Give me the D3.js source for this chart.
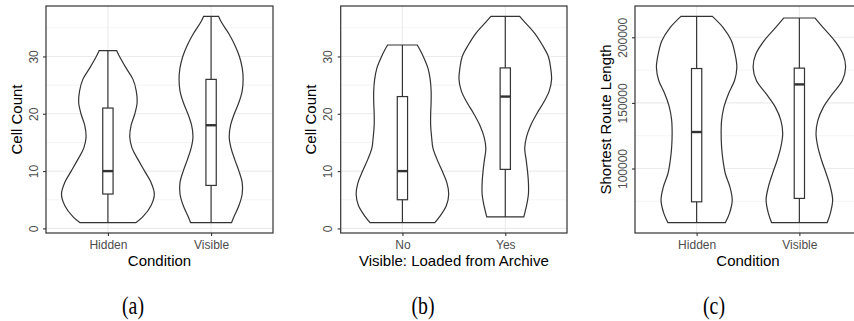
<!DOCTYPE html>
<html>
<head>
<meta charset="utf-8">
<script src="https://cdn.jsdelivr.net/npm/d3@7"></script>
<style>
    body { margin: 0; background: #fff; }
    svg { display: block; }
    text { font-family: "Liberation Sans", Arial, sans-serif; }
</style>
</head>
<body>
<div id="chart"></div>
<script>
// (a) Cell count by condition
const condCats = ["Hidden", "Visible"];
const aHiddenLevels = [1, 2, 4, 6, 8, 10, 12, 14, 16, 18, 20, 22, 24, 26, 28, 30, 31];
const aHiddenWidth  = [0.60, 0.75, 0.93, 1.00, 0.93, 0.79, 0.65, 0.52, 0.47, 0.50, 0.58, 0.63, 0.61, 0.54, 0.39, 0.25, 0.19];
const aVisibleLevels = [1, 2, 4, 6, 8, 10, 12, 14, 16, 18, 20, 22, 24, 26, 28, 30, 32, 34, 36, 37];
const aVisibleWidth  = [0.44, 0.49, 0.60, 0.67, 0.67, 0.60, 0.51, 0.43, 0.39, 0.42, 0.50, 0.60, 0.67, 0.69, 0.67, 0.61, 0.51, 0.38, 0.22, 0.16];
// min, q1, median, q3, max
const aBoxes = [[1, 6, 10, 21, 31], [1, 7.5, 18, 26, 37]];

// (b) Cell count by archive loading
const archiveCats = ["No", "Yes"];
const bNoLevels = [1, 2, 4, 6, 8, 10, 12, 14, 16, 18, 20, 22, 24, 26, 28, 30, 31, 32];
const bNoWidth  = [0.70, 0.80, 0.95, 1.00, 0.96, 0.86, 0.75, 0.66, 0.63, 0.61, 0.61, 0.62, 0.62, 0.60, 0.55, 0.45, 0.39, 0.32];
const bYesLevels = [2, 4, 6, 8, 10, 12, 14, 16, 18, 20, 22, 24, 26, 28, 30, 32, 34, 36, 37];
const bYesWidth  = [0.40, 0.46, 0.50, 0.50, 0.48, 0.45, 0.42, 0.46, 0.55, 0.68, 0.83, 0.95, 1.00, 0.98, 0.93, 0.80, 0.64, 0.42, 0.31];
const bBoxes = [[1, 5, 10, 23, 32], [2, 10.3, 23, 28, 37]];

// (c) Shortest route length by condition
const cHiddenLevels = [58700, 65800, 75900, 86000, 96200, 106300, 116400, 126600, 136700, 146800, 157000, 167100, 177200, 187400, 197500, 207600, 216000];
const cHiddenWidth  = [0.62, 0.71, 0.77, 0.72, 0.62, 0.57, 0.54, 0.53, 0.54, 0.59, 0.69, 0.82, 0.87, 0.83, 0.75, 0.57, 0.34];
const cVisibleLevels = [58700, 65800, 75900, 86000, 96200, 106300, 116400, 126600, 136700, 146800, 157000, 167100, 177200, 187400, 197500, 207600, 214700];
const cVisibleWidth  = [0.60, 0.67, 0.72, 0.67, 0.58, 0.48, 0.40, 0.36, 0.40, 0.52, 0.72, 0.93, 1.00, 0.94, 0.76, 0.51, 0.34];
const cBoxes = [[58700, 74600, 127800, 176200, 216000], [58700, 77200, 164100, 176500, 214700]];

const countTicks = [0, 10, 20, 30];
const countMinor = [5, 15, 25, 35];
const routeTicks = [100000, 150000, 200000];
const routeMinor = [75000, 125000, 175000];

const panels = [
    {cats: condCats, levels: [aHiddenLevels, aVisibleLevels], widths: [aHiddenWidth, aVisibleWidth], boxes: aBoxes,
     ticks: countTicks, minor: countMinor, xTitle: "Condition", yTitle: "Cell Count", caption: "(a)",
     left: 46, right: 273, capX: 133},
    {cats: archiveCats, levels: [bNoLevels, bYesLevels], widths: [bNoWidth, bYesWidth], boxes: bBoxes,
     ticks: countTicks, minor: countMinor, xTitle: "Visible: Loaded from Archive", yTitle: "Cell Count", caption: "(b)",
     left: 340.7, right: 567, capX: 423},
    {cats: condCats, levels: [cHiddenLevels, cVisibleLevels], widths: [cHiddenWidth, cVisibleWidth], boxes: cBoxes,
     ticks: routeTicks, minor: routeMinor, xTitle: "Condition", yTitle: "Shortest Route Length", caption: "(c)",
     left: 635, right: 861, capX: 714}
];

const width = 854, height = 321;
const plotTop = 6, plotBottom = 233;

const svg = d3.select("#chart").append("svg")
    .attr("width", width)
    .attr("height", height);

svg.append("rect").attr("width", width).attr("height", height).attr("fill", "#fff");

panels.forEach(drawPanel);

function drawPanel(p) {
    const g = svg.append("g");

    const allVals = p.boxes.flat();
    const lo = d3.min(allVals), hi = d3.max(allVals);
    const pad = (hi - lo) * 0.05;

    const x = d3.scalePoint().domain(p.cats).range([p.left, p.right]).padding(0.6);
    const y = d3.scaleLinear().domain([lo - pad, hi + pad]).range([plotBottom, plotTop]);
    const step = x.step();

    // grid
    g.selectAll(".minor")
        .data(p.minor.filter(v => y(v) > plotTop && y(v) < plotBottom))
        .enter().append("line")
        .attr("x1", p.left).attr("x2", p.right)
        .attr("y1", d => y(d)).attr("y2", d => y(d))
        .attr("stroke", "#ebebeb").attr("stroke-width", 0.55);
    g.selectAll(".majorY")
        .data(p.ticks)
        .enter().append("line")
        .attr("x1", p.left).attr("x2", p.right)
        .attr("y1", d => y(d)).attr("y2", d => y(d))
        .attr("stroke", "#ebebeb").attr("stroke-width", 1.1);
    g.selectAll(".majorX")
        .data(p.cats)
        .enter().append("line")
        .attr("x1", d => x(d)).attr("x2", d => x(d))
        .attr("y1", plotTop).attr("y2", plotBottom)
        .attr("stroke", "#ebebeb").attr("stroke-width", 1.1);

    // violins + boxes
    p.cats.forEach((cat, i) => {
        const cx = x(cat);
        const pts = p.levels[i].map((v, j) => [v, p.widths[i][j]]);
        const area = d3.area()
            .y(d => y(d[0]))
            .x0(d => cx - d[1] * 0.45 * step)
            .x1(d => cx + d[1] * 0.45 * step)
            .curve(d3.curveCatmullRom);
        g.append("path")
            .attr("d", area(pts))
            .attr("fill", "#fff")
            .attr("stroke", "#333")
            .attr("stroke-width", 1.2);

        const b = p.boxes[i];
        const bw = 0.1 * step;
        g.append("line")
            .attr("x1", cx).attr("x2", cx)
            .attr("y1", y(b[0])).attr("y2", y(b[4]))
            .attr("stroke", "#333").attr("stroke-width", 1.2);
        g.append("rect")
            .attr("x", cx - bw / 2).attr("width", bw)
            .attr("y", y(b[3])).attr("height", y(b[1]) - y(b[3]))
            .attr("fill", "#fff")
            .attr("stroke", "#333").attr("stroke-width", 1.2);
        g.append("line")
            .attr("x1", cx - bw / 2).attr("x2", cx + bw / 2)
            .attr("y1", y(b[2])).attr("y2", y(b[2]))
            .attr("stroke", "#333").attr("stroke-width", 2.4);
    });

    // panel border
    g.append("rect")
        .attr("x", p.left).attr("y", plotTop)
        .attr("width", p.right - p.left).attr("height", plotBottom - plotTop)
        .attr("fill", "none").attr("stroke", "#333").attr("stroke-width", 1.2);

    // axes
    const yAxis = g.append("g")
        .attr("transform", `translate(${p.left},0)`)
        .call(d3.axisLeft(y).tickValues(p.ticks).tickSize(3).tickFormat(d3.format("d")));
    yAxis.select(".domain").remove();
    yAxis.selectAll(".tick line").attr("stroke", "#333").attr("stroke-width", 1.1);
    yAxis.selectAll(".tick text")
        .attr("x", null).attr("dy", null)
        .attr("transform", "translate(-8.5,0) rotate(-90)")
        .attr("text-anchor", "middle")
        .attr("fill", "#4d4d4d")
        .style("font-size", "12px");

    const xAxis = g.append("g")
        .attr("transform", `translate(0,${plotBottom})`)
        .call(d3.axisBottom(x).tickSize(3).tickPadding(4));
    xAxis.select(".domain").remove();
    xAxis.selectAll(".tick line").attr("stroke", "#333").attr("stroke-width", 1.1);
    xAxis.selectAll(".tick text")
        .attr("fill", "#4d4d4d")
        .style("font-size", "12px");

    // titles
    g.append("text")
        .attr("x", (p.left + p.right) / 2)
        .attr("y", 266)
        .attr("text-anchor", "middle")
        .style("font-size", "15px")
        .attr("fill", "#000")
        .text(p.xTitle);

    g.append("text")
        .attr("transform", `translate(${p.left - 24.5},${(plotTop + plotBottom) / 2}) rotate(-90)`)
        .attr("text-anchor", "middle")
        .style("font-size", "15px")
        .attr("fill", "#000")
        .text(p.yTitle);

    g.append("text")
        .attr("transform", `translate(${p.capX},314) scale(0.9,1.1)`)
        .attr("text-anchor", "middle")
        .style("font-family", "'Liberation Serif', 'Times New Roman', serif")
        .style("font-size", "22px")
        .attr("fill", "#000")
        .text(p.caption);
}
</script>
</body>
</html>
